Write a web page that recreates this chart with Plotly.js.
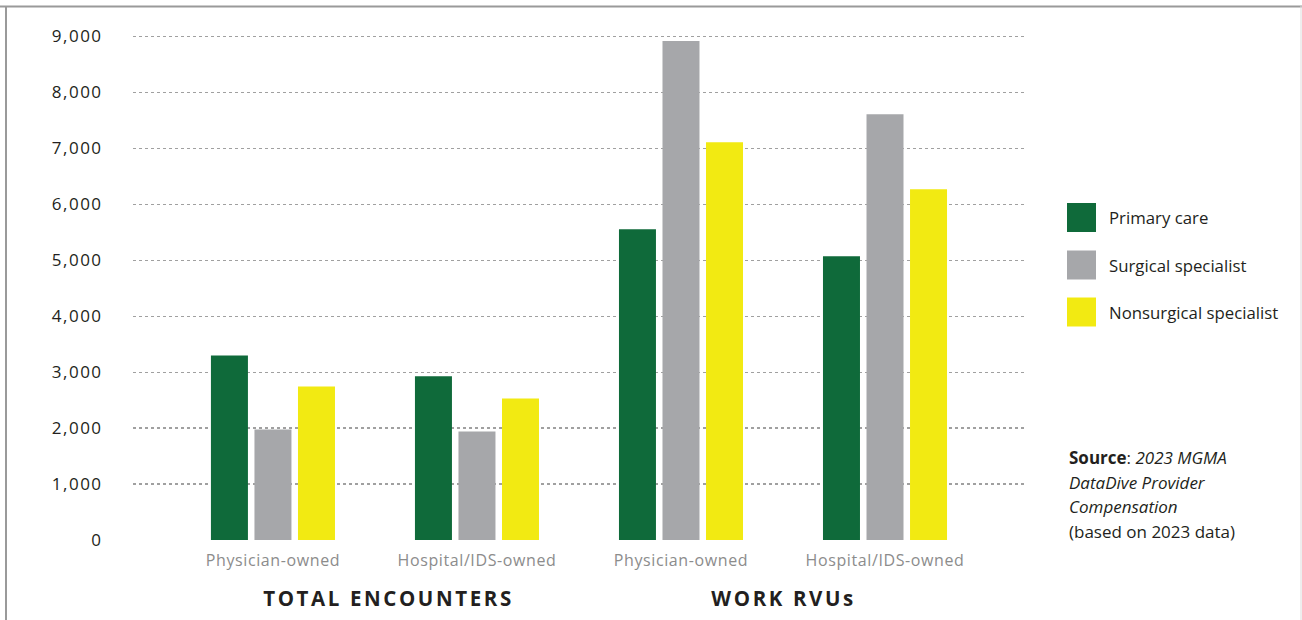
<!DOCTYPE html>
<html>
<head>
<meta charset="utf-8">
<script src="https://cdn.plot.ly/plotly-3.0.1.min.js"></script>
<style>
html,body{margin:0;padding:0;background:#fff;}
#chart{width:1302px;height:620px;}
#chart .xtick text{letter-spacing:0.6px;}
#chart .ytick text{letter-spacing:1.5px;}
#chart g.annotation[data-index="3"] text,
#chart g.annotation[data-index="4"] text{letter-spacing:2.6px;}
</style>
</head>
<body>
<div id="chart"></div>
<script>
// ---- data ----
const measures = ['TOTAL ENCOUNTERS', 'WORK RVUs'];
const ownership = ['Physician-owned', 'Hospital/IDS-owned'];
const seriesNames = ['Primary care', 'Surgical specialist', 'Nonsurgical specialist'];
const primaryCare = [3300, 2925, 5555, 5070];
const surgicalSpecialist = [1975, 1940, 8920, 7610];
const nonsurgicalSpecialist = [2745, 2530, 7110, 6270];
const yTicks = [0, 1000, 2000, 3000, 4000, 5000, 6000, 7000, 8000, 9000];
const sourceLines = ['<b>Source</b>: <i>2023 MGMA</i>', '<i>DataDive Provider</i>', '<i>Compensation</i>', '(based on 2023 data)'];

// ---- build ----
const colors = ['#0f6a3a', '#a6a7aa', '#f2ea12'];
const xKeys = [];
const xLabels = [];
measures.forEach(m => ownership.forEach(o => { xKeys.push(m + '|' + o); xLabels.push(o); }));
const values = [primaryCare, surgicalSpecialist, nonsurgicalSpecialist];
const FONT = '"Open Sans", sans-serif';

const traces = values.map((v, i) => ({
  type: 'bar', x: xKeys, y: v, name: seriesNames[i],
  marker: {color: colors[i], line: {width: 0}},
  showlegend: false, hoverinfo: 'skip'
}));

const L = 133, R = 1027, T = 35, B = 540, W = 1302, H = 620;
const pw = R - L, ph = B - T;
const px = x => (x - L) / pw;
const py = y => (B - y) / ph;
const yMax = 9000 * ph / (B - 36.5);

const shapes = [
  // frame
  {type: 'line', xref: 'paper', yref: 'paper', x0: px(0), x1: px(W), y0: py(6.5), y1: py(6.5), line: {color: '#9a9a9a', width: 2}},
  {type: 'line', xref: 'paper', yref: 'paper', x0: px(6), x1: px(6), y0: py(6), y1: py(H), line: {color: '#9a9a9a', width: 2}},
  {type: 'line', xref: 'paper', yref: 'paper', x0: px(1301), x1: px(1301), y0: py(6), y1: py(H), line: {color: '#dddddd', width: 1}}
];
const annotations = [];
const legendY = [217.5, 265, 312];
seriesNames.forEach((n, i) => {
  shapes.push({type: 'rect', xref: 'paper', yref: 'paper', x0: px(1067), x1: px(1096),
    y0: py(legendY[i] + 14.5), y1: py(legendY[i] - 14.5), fillcolor: colors[i], line: {width: 0}});
  annotations.push({xref: 'paper', yref: 'paper', x: px(1107), y: py(legendY[i]), xanchor: 'left', yanchor: 'middle',
    text: n, showarrow: false, font: {family: FONT, size: 16.8, color: '#231f20'}});
});
const measureX = [388.5, 783.5];
measures.forEach((m, i) => {
  annotations.push({xref: 'paper', yref: 'paper', x: px(measureX[i]), y: py(598), xanchor: 'center', yanchor: 'middle',
    text: '<b>' + m + '</b>', showarrow: false, font: {family: FONT, size: 20.5, color: '#231f20'}});
});
const srcY = [457, 482, 507, 531];
sourceLines.forEach((s, i) => {
  annotations.push({xref: 'paper', yref: 'paper', x: px(1067), y: py(srcY[i]), xanchor: 'left', yanchor: 'middle',
    text: s, showarrow: false, font: {family: FONT, size: 17, color: '#231f20'}});
});

const layout = {
  width: W, height: H,
  margin: {l: L, r: W - R, t: T, b: H - B, pad: 0},
  paper_bgcolor: '#fff', plot_bgcolor: '#fff',
  font: {family: FONT, color: '#231f20'},
  barmode: 'group', bargap: 0.36, bargroupgap: 0.15,
  showlegend: false,
  xaxis: {
    type: 'category', categoryorder: 'array', categoryarray: xKeys,
    tickvals: xKeys, ticktext: xLabels,
    range: [-0.686, 3.696],
    showgrid: false, zeroline: false, showline: false,
    ticks: 'outside', ticklen: 6, tickcolor: 'rgba(0,0,0,0)',
    tickfont: {family: FONT, size: 16, color: '#8c8c8c'}
  },
  yaxis: {
    range: [0, yMax], tickvals: yTicks, tickformat: ',d',
    showgrid: true, gridcolor: '#a0a0a0', gridwidth: 1.3, griddash: 'dot',
    zeroline: false, showline: false,
    ticks: 'outside', ticklen: 26, tickcolor: 'rgba(0,0,0,0)',
    tickfont: {family: FONT, size: 17, color: '#231f20'}
  },
  shapes: shapes,
  annotations: annotations
};

Plotly.newPlot('chart', traces, layout, {displayModeBar: false, staticPlot: true});
</script>
</body>
</html>
